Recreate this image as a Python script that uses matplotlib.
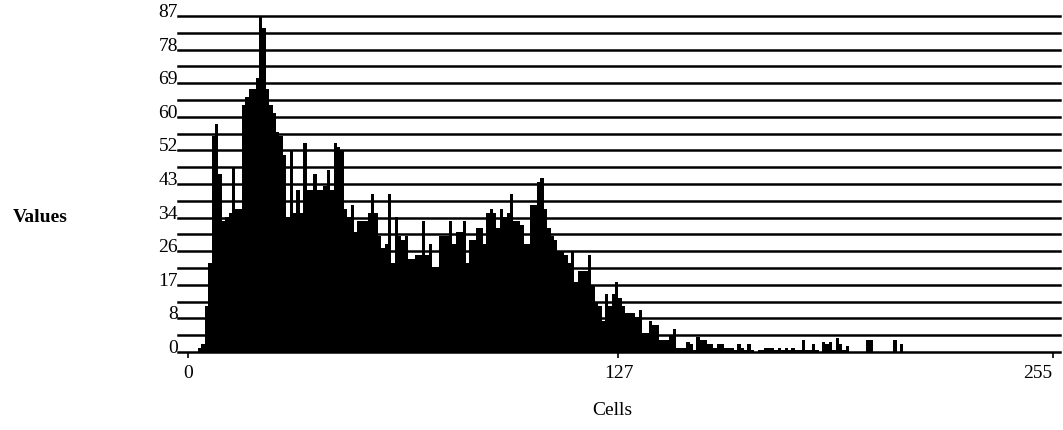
import matplotlib
matplotlib.use("Agg")
import matplotlib.pyplot as plt
import numpy as np

# histogram counts per cell (0..255)
counts_head = [
    0, 0, 0, 1, 2, 12, 23, 56, 59, 46,
    34, 35, 36, 48, 37, 37, 64, 66, 68, 68,
    71, 87, 84, 68, 64, 62, 57, 56, 51, 35,
    52, 36, 42, 36, 54, 42, 42, 46, 42, 42,
    43, 47, 42, 54, 53, 52, 37, 35, 38, 31,
    34, 34, 34, 36, 41, 36, 30, 27, 28, 41,
    23, 35, 30, 29, 30, 24, 24, 25, 25, 34,
    25, 28, 22, 22, 30, 30, 30, 34, 28, 31,
    31, 34, 23, 29, 29, 32, 32, 28, 36, 37,
    36, 32, 37, 35, 36, 41, 34, 34, 33, 28,
    28, 38, 38, 44, 45, 37, 32, 30, 29, 26,
    26, 25, 23, 26, 18, 21, 21, 21, 25, 17,
    13, 12, 8, 15, 12, 15, 18, 14, 12, 10,
    10, 10, 9, 11, 5, 5, 8, 7, 7, 3,
    3, 3, 4.5, 6, 1, 1, 1, 2.5, 2, 0.5,
    4, 3, 3, 2, 2, 1, 2, 2, 1, 1,
    1, 0.5, 2, 1, 0.5, 2, 0.5, 0, 0.5, 0.5,
    1, 1, 1, 0.5, 1, 0.5, 1, 0.5, 1, 0.5,
    0.5, 3, 0.5, 0.5, 2, 0.5, 0, 2.5, 2, 2.5,
    0.5, 3.5, 2, 0.5, 1.5, 0, 0, 0, 0, 0,
    3, 3, 0, 0, 0, 0, 0, 0, 3, 0,
    2,
]
counts = np.array(counts_head + [0] * (256 - len(counts_head)), dtype=float)
cells = np.arange(256)

y_max = 87
grid_levels = np.linspace(0, y_max, 21)
tick_levels = np.linspace(0, y_max, 11)
tick_labels = [str(int(v)) for v in tick_levels]
x_ticks = [0, 127, 255]

serif = ["Liberation Serif", "DejaVu Serif"]

fig = plt.figure(figsize=(10.63, 4.31), dpi=100)
ax = fig.add_axes([178 / 1063, 78 / 431, (1060 - 178) / 1063, (414 - 78) / 431])

ax.bar(cells, counts, width=1.0, align="edge", color="black", linewidth=0, zorder=2)
for lvl in grid_levels:
    ax.axhline(lvl, color="black", linewidth=1.8, zorder=3, clip_on=False)

ax.set_xlim(-2.9, 257.2)
ax.set_ylim(0, y_max)

ax.set_yticks(tick_levels)
ax.set_yticklabels(tick_labels, fontfamily=serif, fontsize=14)
for lab in ax.get_yticklabels():
    lab.set_verticalalignment("baseline")
ax.tick_params(axis="y", length=0, pad=0)

ax.set_xticks(x_ticks)
ax.set_xticklabels([str(v) for v in x_ticks], fontfamily=serif, fontsize=14)
ax.get_xticklabels()[-1].set_horizontalalignment("right")
ax.tick_params(axis="x", length=4, width=1.2, pad=5, direction="out")

for s in ax.spines.values():
    s.set_visible(False)

fig.text(40 / 1063, 1 - 218 / 431, "Values", fontfamily=serif, fontsize=14,
         fontweight="bold", ha="center", va="center")
fig.text(612 / 1063, 1 - 411 / 431, "Cells", fontfamily=serif, fontsize=14,
         ha="center", va="center")

fig.savefig("out.png", dpi=100)
